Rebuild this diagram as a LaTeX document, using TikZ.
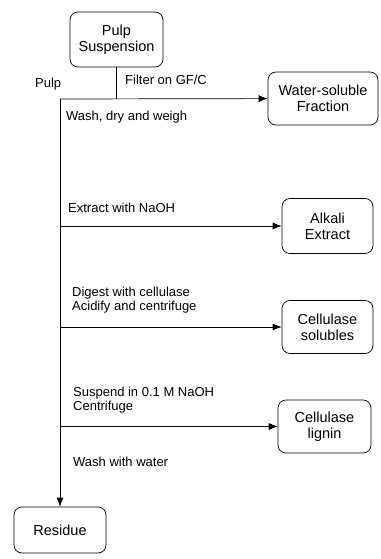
\documentclass[tikz,border=0pt]{standalone}
\usepackage{fontspec}
\setmainfont{Liberation Sans}
\usetikzlibrary{arrows.meta, positioning}

\begin{document}
\begin{tikzpicture}[
  x=1pt, y=-1pt,
  box/.style={draw, rounded corners=8pt, line width=0.7pt, inner sep=0pt, align=center, font=\fontsize{14.5}{16}\selectfont},
  lbl/.style={inner sep=0pt, anchor=west, align=left, font=\fontsize{13}{14}\selectfont},
  arr/.style={-{Latex[length=9pt, width=7pt]}, line width=0.7pt},
  flow/.style={line width=0.7pt},
]
\useasboundingbox (0,0) rectangle (380,559);

% Boxes
\node[box, minimum width=93pt, minimum height=55pt] (pulp) at (116.5, 39.5) {Pulp\\Suspension};
\node[box, minimum width=110pt, minimum height=53pt] (water) at (323, 98.5) {Water-soluble\\Fraction};
\node[box, minimum width=91pt, minimum height=55pt] (alkali) at (327.5, 226) {Alkali\\Extract};
\node[box, minimum width=91pt, minimum height=53pt] (solubles) at (327.5, 327) {Cellulase\\solubles};
\node[box, minimum width=93pt, minimum height=53pt] (lignin) at (324.5, 426.5) {Cellulase\\lignin};
\node[box, minimum width=92pt, minimum height=46pt] (residue) at (60, 530) {Residue};

% Junction on the main line
\coordinate (j0) at (60, 99);

% Labels
\node[lbl] (pulplbl) at (35, 84) {Pulp};
\node[lbl] (filter) at (125, 80) {Filter on GF/C};
\node[lbl] (wash) at (66, 117) {Wash, dry and weigh};
\node[lbl] (extract) at (68, 208) {Extract with NaOH};
\node[lbl] (digest) at (72, 300) {Digest with cellulase\\Acidify and centrifuge};
\node[lbl] (suspend) at (73, 400.5) {Suspend in 0.1 M NaOH\\Centrifuge};
\node[lbl] (washw) at (73, 462) {Wash with water};

% Connectors
\draw[flow] (pulp) -- (pulp |- j0);
\draw[arr] (j0) -- (water);
\draw[arr] (j0) -- (residue);
\draw[arr] (j0 |- alkali) -- (alkali);
\draw[arr] (j0 |- solubles) -- (solubles);
\draw[arr] (j0 |- lignin) -- (lignin);
\end{tikzpicture}
\end{document}
